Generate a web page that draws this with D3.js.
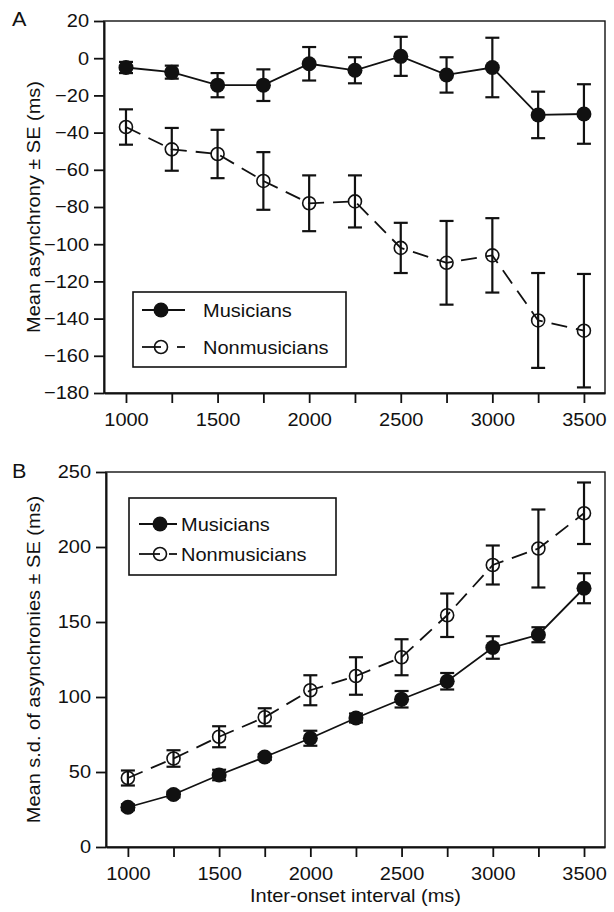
<!DOCTYPE html>
<html>
<head>
<meta charset="utf-8">
<script src="https://cdn.jsdelivr.net/npm/d3@7"></script>
<style>
  body { margin: 0; background: #fff; }
  svg { display: block; }
  text { font-family: "Liberation Sans", Arial, sans-serif; fill: #111; }
</style>
</head>
<body>
<svg id="chart" width="614" height="912"></svg>
<script>
// inter-onset intervals (ms)
var ioi = [1000, 1250, 1500, 1750, 2000, 2250, 2500, 2750, 3000, 3250, 3500];

// panel A: mean asynchrony +- SE
var musA   = [-5, -7.5, -14.5, -14.5, -3, -6.5, 1, -9, -5, -30.5, -30];
var musAse = [3, 3.5, 6.5, 8.5, 9, 7, 10.5, 9.5, 16, 12.5, 16];
var nonA   = [-37, -49, -51.5, -66, -78, -77, -102, -110, -106, -141, -146.5];
var nonAse = [9.5, 11.5, 13, 15.5, 15, 14, 13.5, 22.5, 20, 25.5, 30.5];

// panel B: mean s.d. of asynchronies +- SE
var musB   = [26.5, 35, 48, 60, 72.5, 86, 98.5, 110.5, 133, 141.5, 172.5];
var musBse = [2, 2, 3.5, 2, 5, 3, 5.5, 5.5, 7.5, 5, 10];
var nonB   = [46, 59, 73.5, 86.5, 104.5, 114, 126.5, 154.5, 188, 199, 222.5];
var nonBse = [5, 5.5, 7, 6, 10, 12.5, 12, 14.5, 13, 26, 20.5];

var xTicks = d3.range(1000, 3501, 250);
var yTicksA = d3.range(-180, 21, 20);
var yTicksB = d3.range(0, 251, 50);
var seriesNames = ["Musicians", "Nonmusicians"];

var svg = d3.select("#chart");
var STRETCH = 1.08, FS = "18.5px";

// the scanned figure is a bit wider than a plain Helvetica, so stretch texts
function widen(sel) {
  sel.each(function() {
    var w = this.getComputedTextLength();
    if (w > 0) d3.select(this).attr("textLength", w * STRETCH).attr("lengthAdjust", "spacingAndGlyphs");
  });
}

function panel(opt) {
  var x = d3.scaleLinear().domain([880, 3615]).range([opt.left, opt.right]);
  var y = d3.scaleLinear().domain(opt.yDomain).range([opt.bottom, opt.top]);
  var g = svg.append("g");

  // frame
  g.append("rect")
    .attr("x", opt.left).attr("y", opt.top)
    .attr("width", opt.right - opt.left).attr("height", opt.bottom - opt.top)
    .attr("fill", "none").attr("stroke", "#111").attr("stroke-width", 1.4);

  var xAxis = g.append("g")
    .attr("transform", "translate(0," + opt.bottom + ")")
    .call(d3.axisBottom(x).tickValues(xTicks).tickSize(10).tickSizeOuter(0)
      .tickFormat(function(d) { return d % 500 === 0 ? d : ""; }));
  var yAxis = g.append("g")
    .attr("transform", "translate(" + opt.left + ",0)")
    .call(d3.axisLeft(y).tickValues(opt.yTicks).tickSize(10).tickSizeOuter(0)
      .tickFormat(d3.format("d")));

  [xAxis, yAxis].forEach(function(a) {
    a.select(".domain").attr("stroke", "#111").attr("stroke-width", 2);
    a.selectAll(".tick line").attr("stroke", "#111").attr("stroke-width", 1.8);
    a.selectAll(".tick text").attr("fill", "#111").style("font-size", FS)
      .style("font-family", "Liberation Sans, Arial, sans-serif");
  });
  xAxis.selectAll(".tick text").attr("y", 20);
  yAxis.selectAll(".tick text").attr("x", -15);
  widen(xAxis.selectAll(".tick text"));
  widen(yAxis.selectAll(".tick text"));

  var line = d3.line().x(function(d, i) { return x(ioi[i]); }).y(function(d) { return y(d); });

  function series(vals, se, dashed, filled) {
    g.append("path").datum(vals)
      .attr("d", line).attr("fill", "none").attr("stroke", "#111").attr("stroke-width", 1.8)
      .attr("stroke-dasharray", dashed ? "16,9" : null);
    var eb = g.append("g").selectAll("g").data(vals).enter().append("g")
      .attr("stroke", "#111").attr("stroke-width", 2.2);
    eb.append("line")
      .attr("x1", function(d, i) { return x(ioi[i]); }).attr("x2", function(d, i) { return x(ioi[i]); })
      .attr("y1", function(d, i) { return y(d - se[i]); }).attr("y2", function(d, i) { return y(d + se[i]); });
    [-1, 1].forEach(function(s) {
      eb.append("line")
        .attr("x1", function(d, i) { return x(ioi[i]) - 7; }).attr("x2", function(d, i) { return x(ioi[i]) + 7; })
        .attr("y1", function(d, i) { return y(d + s * se[i]); }).attr("y2", function(d, i) { return y(d + s * se[i]); });
    });
    g.append("g").selectAll("circle").data(vals).enter().append("circle")
      .attr("cx", function(d, i) { return x(ioi[i]); }).attr("cy", function(d) { return y(d); })
      .attr("r", filled ? 7.5 : 6.5)
      .attr("fill", filled ? "#111" : "none")
      .attr("stroke", "#111").attr("stroke-width", filled ? 0 : 1.6);
  }
  series(opt.non, opt.nonSe, true, false);
  series(opt.mus, opt.musSe, false, true);

  // legend
  var L = opt.legend;
  g.append("rect").attr("x", L.x0).attr("y", L.y0).attr("width", L.x1 - L.x0).attr("height", L.y1 - L.y0)
    .attr("fill", "#fff").attr("stroke", "#111").attr("stroke-width", 1.6);
  seriesNames.forEach(function(name, k) {
    var ry = L.rows[k];
    var filled = k === 0;
    if (filled) {
      g.append("line").attr("x1", L.lx0).attr("x2", L.lx1).attr("y1", ry).attr("y2", ry)
        .attr("stroke", "#111").attr("stroke-width", 1.8);
    } else {
      g.append("line").attr("x1", L.lx0).attr("x2", L.mx).attr("y1", ry).attr("y2", ry)
        .attr("stroke", "#111").attr("stroke-width", 1.8);
      g.append("line").attr("x1", L.lx1 - 8).attr("x2", L.lx1).attr("y1", ry).attr("y2", ry)
        .attr("stroke", "#111").attr("stroke-width", 1.8);
    }
    g.append("circle").attr("cx", L.mx).attr("cy", ry).attr("r", filled ? 7.5 : 6.5)
      .attr("fill", filled ? "#111" : "none").attr("stroke", "#111").attr("stroke-width", filled ? 0 : 1.6);
    g.append("text").attr("x", L.tx).attr("y", ry).attr("dy", "0.36em")
      .style("font-size", FS).text(name).call(widen);
  });

  // y title and panel letter
  g.append("text")
    .attr("transform", "translate(40," + ((opt.top + opt.bottom) / 2) + ") rotate(-90)")
    .attr("text-anchor", "middle").style("font-size", FS).text(opt.yTitle).call(widen);
  g.append("text").attr("x", 12).attr("y", opt.letterY).style("font-size", "20px")
    .text(opt.letter).call(widen);

  return x;
}

panel({
  left: 104, right: 605, top: 21, bottom: 393,
  yDomain: [-180, 20], yTicks: yTicksA,
  mus: musA, musSe: musAse, non: nonA, nonSe: nonAse,
  legend: { x0: 133, x1: 346, y0: 292, y1: 367, rows: [310, 347], lx0: 142, lx1: 185, mx: 161, tx: 203 },
  yTitle: "Mean asynchrony \u00b1 SE (ms)", letter: "A", letterY: 26
});

panel({
  left: 106, right: 605, top: 472, bottom: 847,
  yDomain: [0, 250], yTicks: yTicksB,
  mus: musB, musSe: musBse, non: nonB, nonSe: nonBse,
  legend: { x0: 129, x1: 336, y0: 498, y1: 575, rows: [524, 554], lx0: 139, lx1: 177, mx: 160, tx: 181 },
  yTitle: "Mean s.d. of asynchronies \u00b1 SE (ms)", letter: "B", letterY: 478
});

svg.append("text")
  .attr("x", (106 + 605) / 2).attr("y", 902)
  .attr("text-anchor", "middle").style("font-size", FS)
  .text("Inter-onset interval (ms)").call(widen);
</script>
</body>
</html>
